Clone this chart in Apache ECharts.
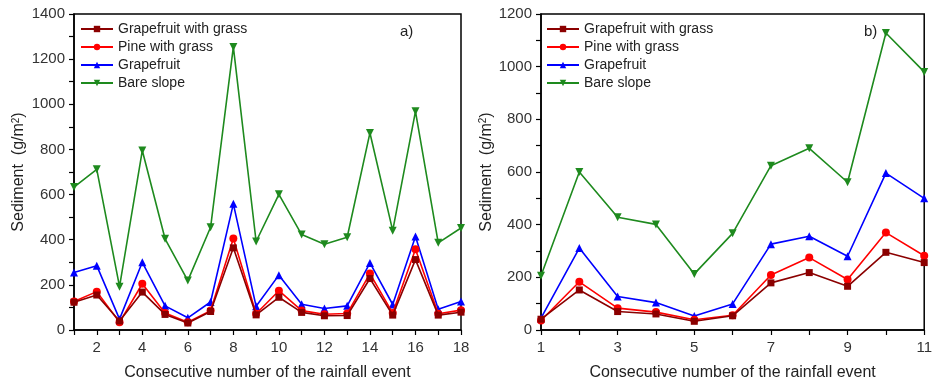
<!DOCTYPE html>
<html>
<head>
<meta charset="utf-8">
<script src="https://cdn.jsdelivr.net/npm/echarts@6/dist/echarts.min.js"></script>
<style>
html,body{margin:0;padding:0;background:#fff;}
#c{width:935px;height:386px;}
</style>
</head>
<body>
<div id="c"></div>
<script>
// Panel a) events 1..18
const eventsA = [1,2,3,4,5,6,7,8,9,10,11,12,13,14,15,16,17,18];
const grapefruitGrassA = [123,155,40,168,69,31,82,364,67,145,78,63,64,228,66,312,66,79];
const pineGrassA       = [126,170,34,205,75,34,86,405,72,174,86,70,73,250,75,358,72,88];
const grapefruitA      = [255,285,48,300,107,54,124,559,105,243,114,95,107,297,113,414,92,126];
const bareSlopeA       = [633,712,192,795,404,219,455,1254,392,601,423,380,411,873,440,969,386,452];

// Panel b) events 1..11
const eventsB = [1,2,3,4,5,6,7,8,9,10,11];
const grapefruitGrassB = [41,152,70,61,33,54,179,218,166,295,256];
const pineGrassB       = [36,183,83,68,39,56,209,275,192,370,282];
const grapefruitB      = [45,311,127,104,53,99,326,356,280,596,500];
const bareSlopeB       = [206,600,428,401,213,367,624,690,561,1128,980];

const seriesNames = ['Grapefruit with grass','Pine with grass','Grapefruit','Bare slope'];
const xTicksA = [2,4,6,8,10,12,14,16,18];
const xTicksB = [1,3,5,7,9,11];

const FONT = 'Liberation Sans, Arial, sans-serif';
const colors = ['#8b0000','#ff0000','#0000ff','#1e8a1e'];
const symbols = ['rect','circle','triangle','path://M0,0 L10,0 L5,9 Z'];
const sizes = [7,8,8,8];

function pairs(xs, ys){ return xs.map((x,i)=>[x, ys[i]]); }

function mkSeries(idx, xs, ys, axisIdx){
  return {
    name: seriesNames[idx], type:'line',
    xAxisIndex: axisIdx, yAxisIndex: axisIdx,
    data: pairs(xs, ys),
    symbol: symbols[idx], symbolSize: sizes[idx],
    showSymbol: true,
    lineStyle: {color: colors[idx], width: 1.6},
    itemStyle: {color: colors[idx]},
    z: 10 - idx,
    animation: false
  };
}

const allX = (n)=>Array.from({length:n},(_,i)=>i+1);

function xAxisCfg(gridIndex, max, labelVals){
  return {
    type:'value', gridIndex, min:1, max,
    name:'Consecutive number of the rainfall event',
    nameLocation:'middle', nameGap:35,
    nameTextStyle:{fontFamily:FONT, fontSize:16, color:'#222'},
    axisLine:{show:true, onZero:false, lineStyle:{color:'#000', width:1.5}},
    axisTick:{show:true, length:5, inside:false, customValues: allX(max), lineStyle:{color:'#000', width:1.2}},
    axisLabel:{customValues: labelVals, fontFamily:FONT, fontSize:15, color:'#333', margin:10},
    splitLine:{show:false}
  };
}
function yAxisCfg(gridIndex, max, gap){
  return {
    type:'value', gridIndex, min:0, max, interval:200,
    name:'Sediment  (g/m{sup|2})',
    nameLocation:'middle', nameGap:gap, nameRotate:90,
    nameTextStyle:{fontFamily:FONT, fontSize:16, color:'#222',
      rich:{sup:{fontFamily:FONT, fontSize:10, color:'#222', verticalAlign:'top', padding:[0,0,6,0]}}},
    axisLine:{show:true, lineStyle:{color:'#000', width:1.5}},
    axisTick:{show:true, length:5, lineStyle:{color:'#000', width:1.2}},
    minorTick:{show:true, splitNumber:2, length:5, lineStyle:{color:'#000', width:1.2}},
    axisLabel:{fontFamily:FONT, fontSize:15, color:'#333', margin:9, formatter:(v)=>String(v)},
    splitLine:{show:false}, minorSplitLine:{show:false}
  };
}

function legendCfg(left){
  return {
    orient:'vertical', left, top:22,
    itemWidth:32, itemHeight:8, itemGap:4,
    data: seriesNames,
    textStyle:{fontFamily:FONT, fontSize:14, color:'#222'},
    padding:0
  };
}

const option = {
  backgroundColor:'#fff',
  animation:false,
  grid:[
    {left:74, right:474, top:14, bottom:52, show:true, borderColor:'#000', borderWidth:1.5, backgroundColor:'transparent'},
    {left:541, right:8, top:14, bottom:52, show:true, borderColor:'#000', borderWidth:1.5, backgroundColor:'transparent'}
  ],
  xAxis:[ xAxisCfg(0, 18, xTicksA), xAxisCfg(1, 11, xTicksB) ],
  yAxis:[ yAxisCfg(0, 1400, 47), yAxisCfg(1, 1200, 43) ],
  legend:[ legendCfg(80), legendCfg(546) ],
  graphic:[
    {type:'text', left:400, top:24, style:{text:'a)', fontFamily:FONT, fontSize:15, fill:'#222'}},
    {type:'text', left:864, top:24, style:{text:'b)', fontFamily:FONT, fontSize:15, fill:'#222'}}
  ],
  series:[
    mkSeries(0, eventsA, grapefruitGrassA, 0),
    mkSeries(1, eventsA, pineGrassA, 0),
    mkSeries(2, eventsA, grapefruitA, 0),
    mkSeries(3, eventsA, bareSlopeA, 0),
    mkSeries(0, eventsB, grapefruitGrassB, 1),
    mkSeries(1, eventsB, pineGrassB, 1),
    mkSeries(2, eventsB, grapefruitB, 1),
    mkSeries(3, eventsB, bareSlopeB, 1)
  ]
};
const chart = echarts.init(document.getElementById('c'), null, {renderer:'canvas'});
chart.setOption(option);
</script>
</body>
</html>
